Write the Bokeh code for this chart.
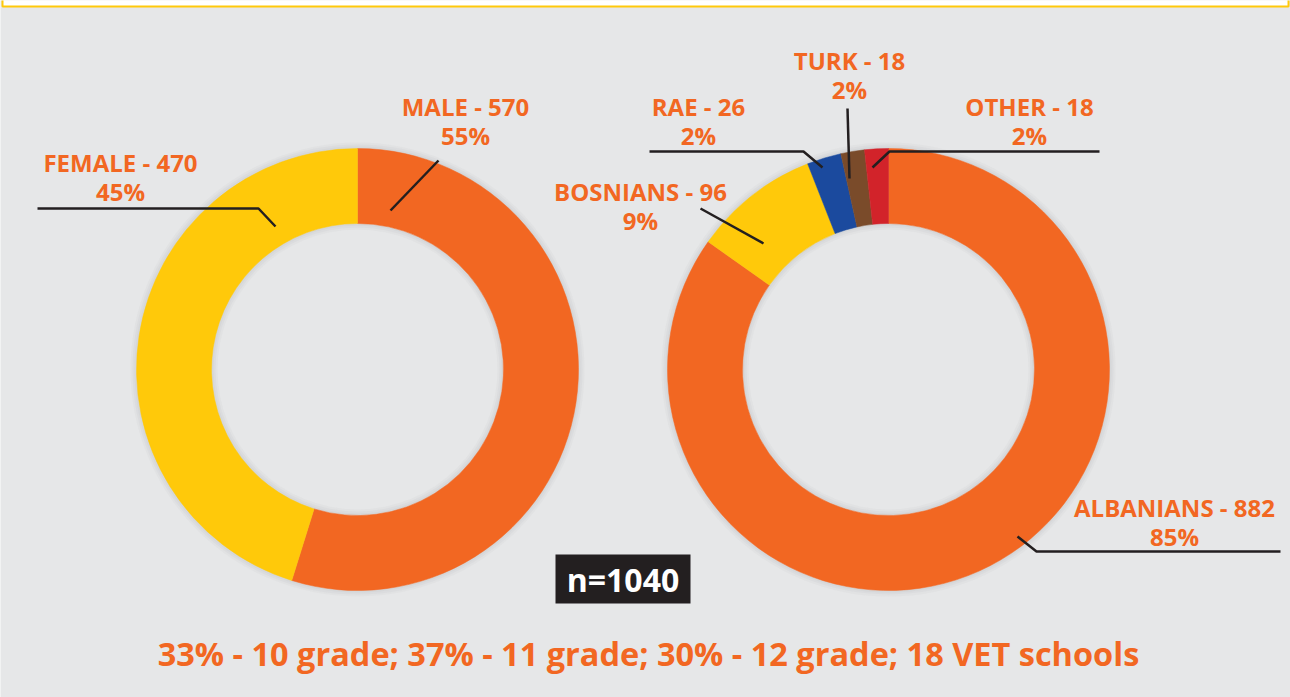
import math
from bokeh.plotting import figure
from bokeh.models import Range1d, ColumnDataSource
from bokeh.core.properties import value
from bokeh.embed import file_html
from bokeh.resources import INLINE

# ---- data ----
gender_labels = ["MALE", "FEMALE"]
gender_counts = [570, 470]
gender_pct = ["55%", "45%"]
gender_colors = ["#F26722", "#FFC90A"]

eth_labels = ["ALBANIANS", "BOSNIANS", "RAE", "TURK", "OTHER"]
eth_counts = [882, 96, 26, 18, 18]
eth_pct = ["85%", "9%", "2%", "2%", "2%"]
eth_colors = ["#F26722", "#FFC90A", "#1B4A9E", "#7A4B2A", "#D2232A"]

n_label = "n=1040"
footer = "33% - 10 grade; 37% - 11 grade; 30% - 12 grade; 18 VET schools"

# ---- layout (pixel coords of the 1290x697 page; y flipped) ----
W, H = 1290, 697
BG = "#E6E7E8"
ORANGE = "#F26722"
LINE = "#231F20"
FONT = "Open Sans"

def Y(py):
    return H - py

p = figure(width=W, height=H, x_range=Range1d(0, W), y_range=Range1d(0, H),
           output_backend="svg", toolbar_location=None, min_border=0)
p.axis.visible = False
p.grid.visible = False
p.outline_line_color = None
p.background_fill_color = BG
p.border_fill_color = BG

# top frame band
p.quad(left=2, right=1288, top=Y(-2), bottom=Y(6), fill_color="white",
       line_color="#FFC90A", line_width=2)

R_OUT, R_IN = 221, 146

def donut(cx, cy, counts, colors):
    total = sum(counts)
    starts, ends = [], []
    cum = 0
    for c in counts:
        starts.append(math.pi / 2 - 2 * math.pi * cum / total)
        cum += c
        ends.append(math.pi / 2 - 2 * math.pi * cum / total)
    # soft shadow ring
    for k, a in [(6, 0.10), (4, 0.12), (2, 0.15)]:
        p.annular_wedge(x=cx, y=Y(cy), inner_radius=R_IN - k, outer_radius=R_OUT + k,
                        start_angle=0, end_angle=2 * math.pi, fill_color="#B8B9BB",
                        fill_alpha=a, line_color=None)
    src = ColumnDataSource(dict(start=starts, end=ends, color=colors))
    p.annular_wedge(x=cx, y=Y(cy), inner_radius=R_IN, outer_radius=R_OUT,
                    start_angle="start", end_angle="end", direction="clock",
                    fill_color="color", line_color="color", line_width=0.5, source=src)

donut(357, 369, gender_counts, gender_colors)
donut(888, 369, eth_counts, eth_colors)

# leader lines
leaders = [
    [(390, 210), (438, 160)],                    # male
    [(37, 208), (258, 208), (275, 226)],         # female
    [(700, 208), (763, 243)],                    # bosnians
    [(649, 151), (803, 151), (822, 167)],        # rae
    [(847, 108), (849, 178)],                    # turk
    [(872, 167), (889, 151), (1099, 151)],       # other
    [(1017, 536), (1036, 551), (1280, 551)],     # albanians
]
p.multi_line(xs=[[q[0] for q in l] for l in leaders],
             ys=[[Y(q[1]) for q in l] for l in leaders],
             line_color=LINE, line_width=2.5)

# labels
label_pos = {
    "MALE": (465, 106), "FEMALE": (120, 162),
    "ALBANIANS": (1174, 507), "BOSNIANS": (640, 191), "RAE": (698, 106),
    "TURK": (849, 60), "OTHER": (1029, 106),
}
xs, ys, txt = [], [], []
for labs, cnts, pcts in [(gender_labels, gender_counts, gender_pct),
                         (eth_labels, eth_counts, eth_pct)]:
    for l, c, pc in zip(labs, cnts, pcts):
        lx, ly = label_pos[l]
        xs += [lx, lx]
        ys += [Y(ly), Y(ly + 29)]
        txt += [f"{l} - {c}", pc]
p.text(x=xs, y=ys, text=txt, text_align="center", text_baseline="middle",
       text_font=value(FONT), text_font_style="bold", text_font_size="24px",
       text_color=ORANGE)

# n box
p.quad(left=555, right=690, top=Y(554), bottom=Y(603), fill_color="#231F20", line_color=None)
p.text(x=[622.5], y=[Y(579)], text=[n_label], text_align="center", text_baseline="middle",
       text_font=value(FONT), text_font_style="bold", text_font_size="32px",
       text_color="white")

# footer
p.text(x=[648], y=[Y(653)], text=[footer], text_align="center", text_baseline="middle",
       text_font=value(FONT), text_font_style="bold", text_font_size="32.5px",
       text_color=ORANGE)

open("out.html", "w").write(file_html(p, INLINE))
